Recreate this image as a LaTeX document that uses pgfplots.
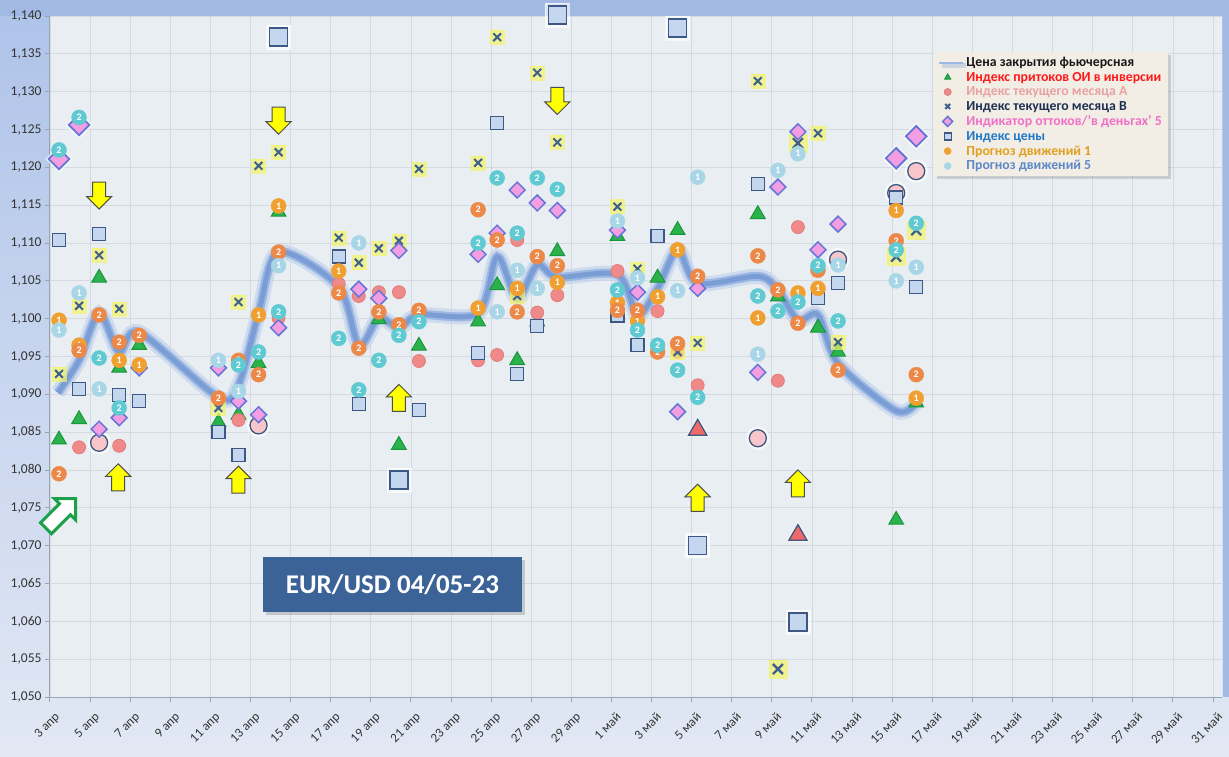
\documentclass[border=0pt]{standalone}
\usepackage{pgfplots}
\pgfplotsset{compat=1.18}
\usepackage{fontspec}
\setmainfont{Carlito}
\usetikzlibrary{shapes.arrows,shadows,backgrounds}

\definecolor{plotbg}{HTML}{E9EEF2}
\definecolor{gridc}{HTML}{D4DADF}
\definecolor{axisc}{HTML}{9AA5B2}
\definecolor{tickc}{HTML}{333333}
\definecolor{bgtop}{HTML}{AEC3E9}
\definecolor{bgbot}{HTML}{E2E8F4}
\definecolor{band}{HTML}{A2BAE3}
\definecolor{glow}{HTML}{C3D4EE}
\definecolor{linemid}{HTML}{9DB8E2}
\definecolor{linec}{HTML}{7A9DD5}
\definecolor{trif}{HTML}{2BB24C}
\definecolor{trid}{HTML}{17963A}
\definecolor{redtri}{HTML}{EE6A6A}
\definecolor{salf}{HTML}{F08A8A}
\definecolor{sald}{HTML}{E27C7C}
\definecolor{pinkf}{HTML}{F7C5CA}
\definecolor{darko}{HTML}{3C5780}
\definecolor{xcol}{HTML}{3F5F8C}
\definecolor{xbg}{HTML}{F3F46A}
\definecolor{diaf}{HTML}{F39DE2}
\definecolor{diad}{HTML}{6676D6}
\definecolor{sqf}{HTML}{C5D7EF}
\definecolor{sqd}{HTML}{3E5886}
\definecolor{or1}{HTML}{F0A030}
\definecolor{or2}{HTML}{EC8848}
\definecolor{lb1}{HTML}{A9D6E6}
\definecolor{te2}{HTML}{5FCAD2}
\definecolor{legbg}{HTML}{F2EEE6}
\definecolor{boxc}{HTML}{3B6397}
\definecolor{arrowy}{HTML}{FFFF00}
\definecolor{arrowg}{HTML}{1CA04A}

\pgfplotsset{
  digit/.style={nodes near coords={#1}, nodes near coords align=center,
    every node near coord/.append style={anchor=center, text=white, inner sep=0pt,
      font=\fontsize{10}{10}\selectfont\bfseries}},
}
\tikzset{
  yarrow/.style={single arrow, draw=black!70, line width=1pt, fill=arrowy,
    minimum height=27pt, minimum width=25pt, single arrow head extend=6pt,
    inner sep=6pt, single arrow head indent=0pt},
}

\begin{document}
\begin{tikzpicture}
\begin{axis}[
  scale only axis, width=1172pt, height=681pt,
  xmin=0, xmax=58.45, ymin=1.05, ymax=1.14,
  clip=false,
  axis background/.style={fill=plotbg},
  grid=major, major grid style={gridc, line width=0.8pt},
  axis x line*=bottom, axis y line*=left,
  axis line style={-, draw=axisc, line width=1pt},
  tick style={axisc, line width=1pt}, tick align=outside, major tick length=5pt,
  xtick={0,2,...,58},
  xticklabels={3 апр,5 апр,7 апр,9 апр,11 апр,13 апр,15 апр,17 апр,19 апр,21 апр,23 апр,25 апр,27 апр,29 апр,1 май,3 май,5 май,7 май,9 май,11 май,13 май,15 май,17 май,19 май,21 май,23 май,25 май,27 май,29 май,31 май},
  xticklabel style={xshift=4pt, yshift=-8pt, rotate=45, anchor=north east, inner sep=1pt,
    text=tickc, font=\fontsize{13}{15}\selectfont},
  ytick={1.05,1.055,1.06,1.065,1.07,1.075,1.08,1.085,1.09,1.095,1.1,1.105,1.11,1.115,1.12,1.125,1.13,1.135,1.14},
  yticklabel style={/pgf/number format/.cd, fixed, fixed zerofill, precision=3, use comma,
    /tikz/.cd, text=tickc, font=\fontsize{13.5}{15}\selectfont},
  /pgf/number format/assume math mode=true,
  legend style={at={(0.754,0.947)}, anchor=north west, fill=legbg, draw=none,
    drop shadow={opacity=0.3, shadow xshift=3pt, shadow yshift=-3pt},
    font=\fontsize{13.8}{15}\selectfont\bfseries, inner xsep=4pt, inner ysep=3pt,
    row sep=0pt},
  legend cell align=left,
  legend image post style={mark size=3.5pt},
]

% close line (glow + line)
\addplot[glow, line width=15pt, opacity=0.7, smooth, tension=0.5, forget plot] coordinates {
(0.4,1.0902)(1.45,1.0945)(2.45,1.1007)(3.45,1.0956)(4.45,1.0982)(8.4,1.0896)(9.4,1.0912)(10.4,1.1007)(11.4,1.1088)(14.4,1.1042)(15.4,1.0965)(16.4,1.1001)(17.4,1.0988)(18.4,1.1005)(21.35,1.1007)(22.3,1.1082)(23.3,1.1027)(24.3,1.1071)(25.3,1.1055)(28.3,1.1058)(29.3,1.1005)(30.3,1.1040)(31.3,1.1091)(32.3,1.1047)(35.3,1.1056)(36.3,1.1038)(37.3,1.0998)(38.3,1.1005)(39.3,1.0941)(42.2,1.0878)(43.2,1.0889)};
\addplot[linemid, line width=9pt, smooth, tension=0.5, forget plot] coordinates {
(0.4,1.0902)(1.45,1.0945)(2.45,1.1007)(3.45,1.0956)(4.45,1.0982)(8.4,1.0896)(9.4,1.0912)(10.4,1.1007)(11.4,1.1088)(14.4,1.1042)(15.4,1.0965)(16.4,1.1001)(17.4,1.0988)(18.4,1.1005)(21.35,1.1007)(22.3,1.1082)(23.3,1.1027)(24.3,1.1071)(25.3,1.1055)(28.3,1.1058)(29.3,1.1005)(30.3,1.1040)(31.3,1.1091)(32.3,1.1047)(35.3,1.1056)(36.3,1.1038)(37.3,1.0998)(38.3,1.1005)(39.3,1.0941)(42.2,1.0878)(43.2,1.0889)};
\addplot[linec, line width=5pt, smooth, tension=0.5,
  legend image code/.code={\draw[linemid, line width=2.5pt] (0pt,0pt) -- (24pt,0pt);}] coordinates {
(0.4,1.0902)(1.45,1.0945)(2.45,1.1007)(3.45,1.0956)(4.45,1.0982)(8.4,1.0896)(9.4,1.0912)(10.4,1.1007)(11.4,1.1088)(14.4,1.1042)(15.4,1.0965)(16.4,1.1001)(17.4,1.0988)(18.4,1.1005)(21.35,1.1007)(22.3,1.1082)(23.3,1.1027)(24.3,1.1071)(25.3,1.1055)(28.3,1.1058)(29.3,1.1005)(30.3,1.1040)(31.3,1.1091)(32.3,1.1047)(35.3,1.1056)(36.3,1.1038)(37.3,1.0998)(38.3,1.1005)(39.3,1.0941)(42.2,1.0878)(43.2,1.0889)};
\addlegendentry{\textcolor{black!90}{Цена закрытия фьючерсная}}

% Индекс притоков ОИ в инверсии
\addplot[only marks, mark=triangle*, mark size=8.5pt, mark options={fill=trif, draw=trid, line width=1pt}] coordinates {
(0.45,1.0840)(1.45,1.0867)(2.45,1.1054)(3.45,1.0935)(4.45,1.0965)(8.4,1.0863)(9.4,1.0873)(10.4,1.0941)(11.4,1.1141)(16.4,1.0999)(17.4,1.0833)(18.4,1.0964)(21.35,1.0996)(22.3,1.1044)(23.3,1.0945)(24.3,1.0996)(25.3,1.1089)(28.3,1.1109)(30.3,1.1054)(31.3,1.1117)(35.3,1.1138)(36.3,1.1029)(38.3,1.0988)(39.3,1.0956)(42.2,1.0734)(43.2,1.0889)};
\addlegendentry{\textcolor[HTML]{FF1A1A}{Индекс притоков ОИ в инверсии}}
\addplot[only marks, mark=triangle*, mark size=13pt, mark options={fill=white, draw=white, opacity=0.6}, forget plot] coordinates {(32.3,1.0853)(37.3,1.0714)};
\addplot[only marks, mark=triangle*, mark size=10.5pt, mark options={fill=redtri, draw=darko, line width=1.3pt}, forget plot] coordinates {(32.3,1.0853)(37.3,1.0714)};

% Индекс текущего месяца А
\addplot[only marks, mark=*, mark size=6.5pt, mark options={fill=salf, draw=sald, line width=0.8pt}] coordinates {
(1.45,1.0830)(3.45,1.0832)(9.4,1.0866)(11.4,1.1001)(14.4,1.1046)(15.4,1.1030)(16.4,1.1035)(17.4,1.1035)(18.4,1.0944)(21.35,1.0945)(22.3,1.0952)(23.3,1.1104)(24.3,1.1008)(25.3,1.1031)(28.3,1.1063)(30.3,1.1010)(31.3,1.0956)(32.3,1.0912)(36.3,1.0918)(37.3,1.1121)};
\addlegendentry{\textcolor[HTML]{E8A2A2}{Индекс текущего месяца А}}
\addplot[only marks, mark=*, mark size=11.5pt, mark options={fill=white, draw=white, opacity=0.6}, forget plot] coordinates {(2.45,1.0836)(10.4,1.0859)(35.3,1.0842)(39.3,1.1078)(42.2,1.1166)(43.2,1.1195)};
\addplot[only marks, mark=*, mark size=8.5pt, mark options={fill=pinkf, draw=darko, line width=1.3pt}, forget plot] coordinates {(2.45,1.0836)(10.4,1.0859)(35.3,1.0842)(39.3,1.1078)(42.2,1.1166)(43.2,1.1195)};

% Индекс текущего месяца В
\addplot[only marks, mark=square*, mark size=7pt, mark options={fill=xbg, draw=xbg, opacity=0.7}, forget plot] coordinates {
(0.45,1.0927)(1.45,1.1017)(2.45,1.1084)(3.45,1.1013)(8.4,1.0882)(9.4,1.1022)(10.4,1.1202)(11.4,1.1220)(14.4,1.1107)(15.4,1.1074)(16.4,1.1093)(17.4,1.1103)(18.4,1.1198)(21.35,1.1206)(22.3,1.1372)(23.3,1.1030)(24.3,1.1325)(25.3,1.1233)(28.3,1.1148)(29.3,1.1066)(31.3,1.0956)(32.3,1.0968)(35.3,1.1314)(38.3,1.1245)(39.3,1.0969)};
\addplot[only marks, mark=square*, mark size=9pt, mark options={fill=xbg, draw=xbg, opacity=0.7}, forget plot] coordinates {(36.3,1.0537)(37.3,1.1232)(42.2,1.1082)(43.2,1.1117)};
\addplot[only marks, mark=x, mark size=5.5pt, mark options={draw=xcol, line width=2pt}] coordinates {
(0.45,1.0927)(1.45,1.1017)(2.45,1.1084)(3.45,1.1013)(8.4,1.0882)(9.4,1.1022)(10.4,1.1202)(11.4,1.1220)(14.4,1.1107)(15.4,1.1074)(16.4,1.1093)(17.4,1.1103)(18.4,1.1198)(21.35,1.1206)(22.3,1.1372)(23.3,1.1030)(24.3,1.1325)(25.3,1.1233)(28.3,1.1148)(29.3,1.1066)(31.3,1.0956)(32.3,1.0968)(35.3,1.1314)(38.3,1.1245)(39.3,1.0969)};
\addlegendentry{\textcolor[HTML]{1F3050}{Индекс текущего месяца В}}
\addplot[only marks, mark=x, mark size=7pt, mark options={draw=xcol, line width=2.3pt}, forget plot] coordinates {(36.3,1.0537)(37.3,1.1232)(42.2,1.1082)(43.2,1.1117)};

% Индикатор оттоков
\addplot[only marks, mark=square*, mark size=5.6pt, mark options={rotate=45, fill=diaf, draw=diad, line width=1.5pt}] coordinates {
(2.45,1.0854)(3.45,1.0869)(4.45,1.0935)(8.4,1.0935)(9.4,1.0891)(10.4,1.0873)(11.4,1.0988)(15.4,1.1039)(16.4,1.1027)(17.4,1.1090)(21.35,1.1085)(22.3,1.1113)(23.3,1.1170)(24.3,1.1153)(25.3,1.1143)(28.3,1.1117)(29.3,1.1035)(31.3,1.0877)(32.3,1.1040)(35.3,1.0929)(36.3,1.1174)(37.3,1.1247)(38.3,1.1091)(39.3,1.1125)};
\addlegendentry{\textcolor[HTML]{F070C8}{Индикатор оттоков/'в деньгах' 5}}
\addplot[only marks, mark=square*, mark size=9.5pt, mark options={rotate=45, fill=white, draw=white, opacity=0.6}, forget plot] coordinates {(0.45,1.1211)(1.45,1.1256)(42.2,1.1212)(43.2,1.1241)};
\addplot[only marks, mark=square*, mark size=7.3pt, mark options={rotate=45, fill=diaf, draw=diad, line width=1.8pt}, forget plot] coordinates {(0.45,1.1211)(1.45,1.1256)(42.2,1.1212)(43.2,1.1241)};

% Индекс цены
\addplot[only marks, mark=square*, mark size=6.5pt, mark options={fill=sqf, draw=sqd, line width=1.3pt}] coordinates {
(0.45,1.1104)(1.45,1.0907)(2.45,1.1112)(3.45,1.0899)(4.45,1.0891)(8.4,1.0850)(9.4,1.0820)(14.4,1.1082)(15.4,1.0887)(18.4,1.0879)(21.35,1.0955)(22.3,1.1259)(23.3,1.0927)(24.3,1.0990)(28.3,1.1004)(29.3,1.0965)(30.3,1.1109)(35.3,1.1178)(38.3,1.1027)(39.3,1.1047)(42.2,1.1160)(43.2,1.1042)};
\addlegendentry{\textcolor[HTML]{1F78C8}{Индекс цены}}
\addplot[only marks, mark=square*, mark size=12pt, mark options={fill=white, draw=white, opacity=0.6}, forget plot] coordinates {(11.4,1.1372)(17.4,1.0787)(25.3,1.1401)(31.3,1.1384)(32.3,1.0700)(37.3,1.0599)};
\addplot[only marks, mark=square*, mark size=9pt, mark options={fill=sqf, draw=sqd, line width=1.6pt}, forget plot] coordinates {(11.4,1.1372)(17.4,1.0787)(25.3,1.1401)(31.3,1.1384)(32.3,1.0700)(37.3,1.0599)};

% Прогноз движений 1
\addplot[only marks, mark=*, mark size=7.5pt, mark options={fill=or1, draw=or1}, digit={1}] coordinates {
(0.45,1.0998)(1.45,1.0965)(3.45,1.0945)(4.45,1.0939)(10.4,1.1005)(11.4,1.1149)(14.4,1.1063)(21.35,1.1014)(23.3,1.1040)(25.3,1.1048)(28.3,1.1021)(29.3,1.0997)(30.3,1.1029)(31.3,1.1091)(35.3,1.1001)(37.3,1.1034)(38.3,1.1040)(42.2,1.1143)(43.2,1.0895)};
\addlegendentry{\textcolor[HTML]{E0A020}{Прогноз движений 1}}
\addplot[only marks, mark=*, mark size=7.5pt, mark options={fill=or2, draw=or2}, digit={2}, forget plot] coordinates {
(0.45,1.0795)(1.45,1.0958)(2.45,1.1005)(3.45,1.0969)(4.45,1.0978)(8.4,1.0895)(9.4,1.0945)(10.4,1.0926)(11.4,1.1088)(14.4,1.1034)(15.4,1.0961)(16.4,1.1009)(17.4,1.0992)(18.4,1.1011)(21.35,1.1144)(22.3,1.1104)(23.3,1.1009)(24.3,1.1082)(25.3,1.1070)(28.3,1.1011)(29.3,1.1011)(30.3,1.0956)(31.3,1.0967)(32.3,1.1056)(35.3,1.1083)(36.3,1.1038)(37.3,1.0994)(38.3,1.1064)(39.3,1.0932)(42.2,1.1103)(43.2,1.0926)};

% Прогноз движений 5
\addplot[only marks, mark=*, mark size=7.5pt, mark options={fill=lb1, draw=lb1}, digit={1}] coordinates {
(0.45,1.0985)(1.45,1.1034)(2.45,1.0907)(8.4,1.0945)(9.4,1.0904)(11.4,1.1070)(15.4,1.1100)(22.3,1.1009)(23.3,1.1064)(24.3,1.1040)(28.3,1.1129)(29.3,1.1054)(31.3,1.1037)(32.3,1.1187)(35.3,1.0953)(36.3,1.1196)(37.3,1.1218)(39.3,1.1071)(42.2,1.1050)(43.2,1.1068)};
\addlegendentry{\textcolor[HTML]{5F88C8}{Прогноз движений 5}}
\addplot[only marks, mark=*, mark size=7.5pt, mark options={fill=te2, draw=te2}, digit={2}, forget plot] coordinates {
(0.45,1.1223)(1.45,1.1266)(2.45,1.0948)(3.45,1.0882)(9.4,1.0939)(10.4,1.0956)(11.4,1.1009)(14.4,1.0974)(15.4,1.0906)(16.4,1.0945)(17.4,1.0978)(18.4,1.0996)(21.35,1.1100)(22.3,1.1186)(23.3,1.1113)(24.3,1.1186)(25.3,1.1171)(28.3,1.1038)(29.3,1.0985)(30.3,1.0965)(31.3,1.0932)(32.3,1.0896)(35.3,1.1030)(36.3,1.1010)(37.3,1.1022)(38.3,1.1070)(39.3,1.0997)(42.2,1.1091)(43.2,1.1126)};

% annotation arrows
\node[yarrow, rotate=-90] at (axis cs:2.45,1.1167) {};
\node[yarrow, rotate=-90] at (axis cs:11.4,1.1266) {};
\node[yarrow, rotate=-90] at (axis cs:25.3,1.1292) {};
\node[yarrow, rotate=90] at (axis cs:3.4,1.0786) {};
\node[yarrow, rotate=90] at (axis cs:9.4,1.0783) {};
\node[yarrow, rotate=90] at (axis cs:17.4,1.0891) {};
\node[yarrow, rotate=90] at (axis cs:32.3,1.0759) {};
\node[yarrow, rotate=90] at (axis cs:37.3,1.0778) {};
\node[single arrow, draw=arrowg, line width=3pt, fill=white, minimum height=42pt,
  minimum width=30pt, single arrow head extend=7pt, inner sep=6pt,
  single arrow head indent=0pt, rotate=45] at (axis cs:0.4,1.0739) {};

% title box
\node[fill=boxc, text=white, font=\fontsize{27}{30}\selectfont\bfseries,
  minimum width=259pt, minimum height=55pt, inner sep=0pt,
  drop shadow={opacity=0.35, shadow xshift=3pt, shadow yshift=-3pt}]
  at (axis cs:17.08,1.0649) {EUR/USD 04/05-23};
\end{axis}
\begin{scope}[on background layer]
  \shade[top color=bgtop, bottom color=bgbot] (-50pt,-59pt) rectangle (1179pt,697pt);
  \fill[band] (-50pt,681pt) rectangle (1179pt,697pt);
  \fill[band] (1173pt,0pt) rectangle (1179pt,697pt);
\end{scope}
\end{tikzpicture}
\end{document}
